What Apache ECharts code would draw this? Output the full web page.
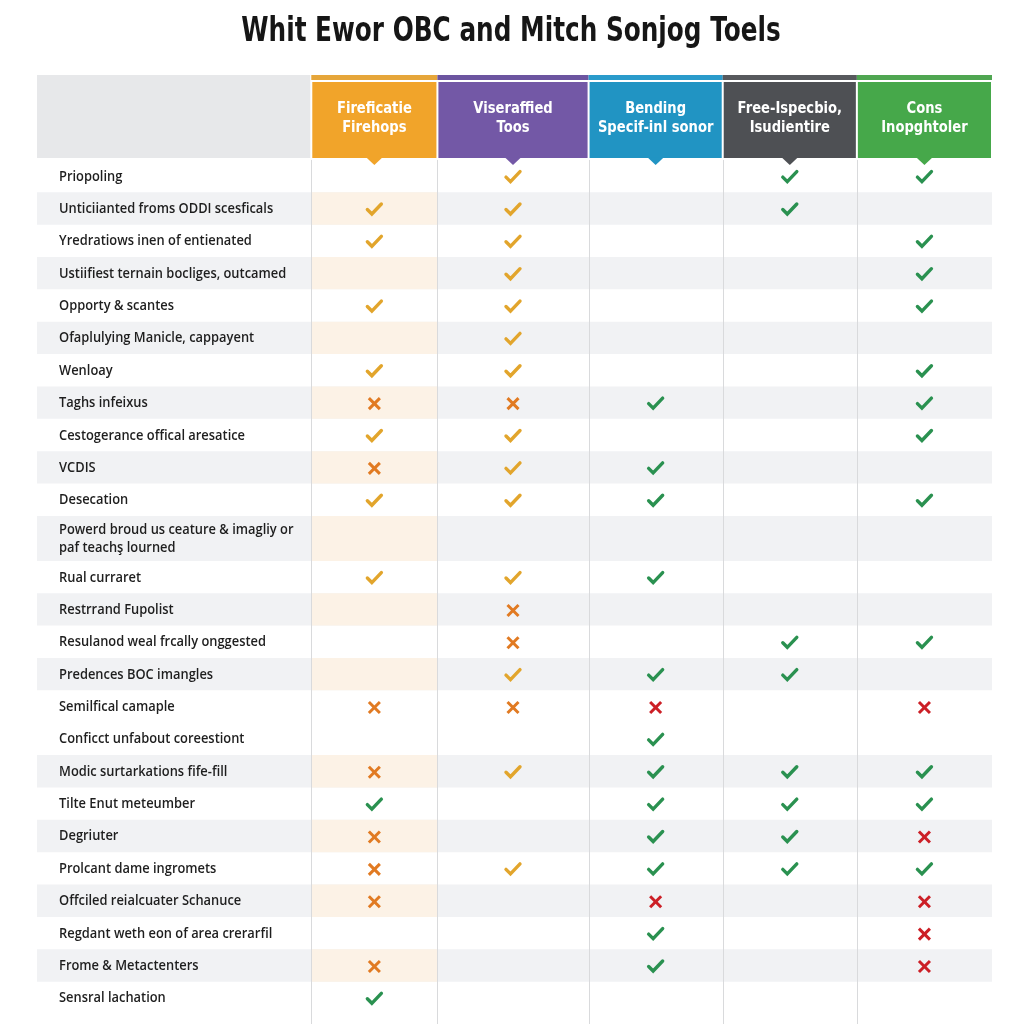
<!DOCTYPE html>
<html><head><meta charset="utf-8">
<script src="https://cdn.jsdelivr.net/npm/echarts@6/dist/echarts.min.js"></script>
<style>html,body{margin:0;padding:0;background:#fff}#c{width:1024px;height:1024px}</style>
</head><body><div id="c"></div>
<script>
// ---------- DATA ----------
const chartTitle = 'Whit Ewor OBC and Mitch Sonjog Toels';
const columnNames = [
  'Fireficatie\nFirehops',
  'Viseraffied\nToos',
  'Bending\nSpecif-inl sonor',
  'Free-Ispecbio,\nIsudientire',
  'Cons\nInopghtoler'
];
const rowLabels = [
  'Priopoling',
  'Unticiianted froms ODDI scesficals',
  'Yredratiows inen of entienated',
  'Ustiifiest ternain bocliges, outcamed',
  'Opporty & scantes',
  'Ofaplulying Manicle, cappayent',
  'Wenloay',
  'Taghs infeixus',
  'Cestogerance offical aresatice',
  'VCDIS',
  'Desecation',
  'Powerd broud us ceature & imagliy or\npaf teachş lourned',
  'Rual curraret',
  'Restrrand Fupolist',
  'Resulanod weal frcally onggested',
  'Predences BOC imangles',
  'Semilfical camaple',
  'Conficct unfabout coreestiont',
  'Modic surtarkations fife-fill',
  'Tilte Enut meteumber',
  'Degriuter',
  'Prolcant dame ingromets',
  'Offciled reialcuater Schanuce',
  'Regdant weth eon of area crerarfil',
  'Frome & Metactenters',
  'Sensral lachation'
];
// 1 = shaded (grey) row, 0 = white row
const rowShaded = [0,1,0,1,0,1,0,1,0,1,0,1,0,1,0,1,0,0,1,0,1,0,1,0,1,0];
// Y = gold check, O = orange cross, G = green check, R = red cross, '' = empty
const col1Marks = ['','Y','Y','','Y','','Y','O','Y','O','Y','','Y','','','','O','','O','G','O','O','O','','O','G'];
const col2Marks = ['Y','Y','Y','Y','Y','Y','Y','O','Y','Y','Y','','Y','O','O','Y','O','','Y','','','Y','','','',''];
const col3Marks = ['','','','','','','','G','','G','G','','G','','','G','R','G','G','G','G','G','R','G','G',''];
const col4Marks = ['G','G','','','','','','','','','','','','','G','G','','','G','G','G','G','','','',''];
const col5Marks = ['G','','G','G','G','','G','G','G','','G','','','','G','','R','','G','G','R','G','R','R','R',''];
const allMarks = [col1Marks, col2Marks, col3Marks, col4Marks, col5Marks];

// ---------- LAYOUT / STYLE ----------
const LABEL_W = 274;
const COL_W = [126, 151, 134, 134, 135];
const HEADER_H = 85, ROW_H = 32.4, EXTRA_LINE_H = 12.6;
const headerColors = ['#F1A42A', '#7358A6', '#2194C3', '#4E5054', '#46A84A'];
const bandColors   = ['#E6A63A', '#6C55A0', '#2A9BCB', '#57595D', '#4FA651'];
const markStyle = {
  Y: {type: 'check', color: '#E2A52C'},
  O: {type: 'cross', color: '#E17A22'},
  G: {type: 'check', color: '#2A9150'},
  R: {type: 'cross', color: '#CC1F26'}
};

const colStart = []; let acc = LABEL_W;
COL_W.forEach(w => { colStart.push(acc); acc += w; });
const totalW = acc;
const rowStart = [], rowH = []; let ya = HEADER_H;
rowLabels.forEach(l => { const n = l.split('\n').length; const h = ROW_H + (n - 1) * EXTRA_LINE_H; rowStart.push(ya); rowH.push(h); ya += h; });
const totalH = ya + 10;

const FONT_LABEL = '"Open Sans", "Noto Sans", sans-serif';
const FONT_HEAD = '"DejaVu Sans", "Noto Sans", sans-serif';

function rectFrom(api, x0, y0, x1, y1) {
  const a = api.coord([x0, y0]), b = api.coord([x1, y1]);
  return {x: Math.min(a[0], b[0]), y: Math.min(a[1], b[1]), width: Math.abs(b[0] - a[0]), height: Math.abs(b[1] - a[1])};
}

const markData = [];
allMarks.forEach((col, c) => col.forEach((m, r) => { if (m) markData.push([c, r, m]); }));

const chart = echarts.init(document.getElementById('c'), null, {renderer: 'canvas'});
chart.setOption({
  backgroundColor: '#ffffff',
  animation: false,
  graphic: [{
    type: 'text', x: 511, y: 32, scaleX: 0.75, z: 10,
    style: {text: chartTitle, align: 'center', verticalAlign: 'middle',
      font: 'bold 33px ' + FONT_HEAD, fill: '#161616'}
  }],
  grid: {left: 37, right: 32, top: 75, bottom: 0, containLabel: false},
  xAxis: {type: 'value', min: 0, max: totalW, show: false},
  yAxis: {type: 'value', min: 0, max: totalH, inverse: true, show: false},
  series: [
    { // row stripes
      type: 'custom', clip: false, silent: true, z: 1,
      data: rowLabels.map((_, i) => [i, i]),
      renderItem: (params, api) => {
        const r = api.value(0);
        const children = [];
        if (rowShaded[r]) {
          children.push({type: 'rect', shape: rectFrom(api, 0, rowStart[r], totalW, rowStart[r] + rowH[r]), style: {fill: '#F1F2F4'}});
          children.push({type: 'rect', shape: rectFrom(api, colStart[0], rowStart[r], colStart[1], rowStart[r] + rowH[r]), style: {fill: '#FCF2E6'}});
        }
        return {type: 'group', children};
      }
    },
    { // vertical lines
      type: 'custom', clip: false, silent: true, z: 2,
      data: colStart.map((_, i) => [i, i]),
      renderItem: (params, api) => {
        const i = api.value(0);
        const a = api.coord([colStart[i], HEADER_H]), b = api.coord([colStart[i], totalH]);
        return {type: 'line', shape: {x1: Math.round(a[0]) + 0.5, y1: a[1], x2: Math.round(a[0]) + 0.5, y2: b[1]}, style: {stroke: '#D9DADC', lineWidth: 1}};
      }
    },
    { // header
      type: 'custom', clip: false, silent: true, z: 3,
      data: columnNames.map((_, i) => [i, i]),
      renderItem: (params, api) => {
        const i = api.value(0);
        const x0 = colStart[i], x1 = colStart[i] + COL_W[i];
        const children = [];
        if (i === 0) {
          children.push({type: 'rect', shape: rectFrom(api, 0, 0, LABEL_W - 1, 83), style: {fill: '#E7E8EA'}});
        }
        children.push({type: 'rect', shape: rectFrom(api, x0, 0, x1, 5), style: {fill: bandColors[i]}});
        children.push({type: 'rect', shape: rectFrom(api, x0 + 1, 7, x1 - 1, 83), style: {fill: headerColors[i]}});
        const c = api.coord([(x0 + x1) / 2, 83]);
        const t = api.coord([(x0 + x1) / 2, 90]);
        children.push({type: 'polygon', shape: {points: [[c[0] - 8, c[1] - 0.5], [c[0] + 8, c[1] - 0.5], [c[0], t[1]]]}, style: {fill: headerColors[i]}});
        const m = api.coord([(x0 + x1) / 2, 43]);
        children.push({type: 'text', x: m[0], y: m[1], scaleX: 0.82, style: {
          text: columnNames[i], fill: '#ffffff', align: 'center', verticalAlign: 'middle',
          font: 'bold 16px ' + FONT_HEAD, lineHeight: 19
        }});
        return {type: 'group', children};
      }
    },
    { // row labels
      type: 'custom', clip: false, silent: true, z: 4,
      data: rowLabels.map((_, i) => [i, i]),
      renderItem: (params, api) => {
        const r = api.value(0);
        const p = api.coord([22, rowStart[r] + rowH[r] / 2 + 0.5]);
        return {type: 'text', x: p[0], y: p[1], scaleX: 0.92, style: {
          text: rowLabels[r], fill: '#1E1E1E', align: 'left', verticalAlign: 'middle',
          font: '600 14px ' + FONT_LABEL, lineHeight: 18
        }};
      }
    },
    { // marks
      type: 'custom', clip: false, silent: true, z: 5,
      data: markData,
      renderItem: (params, api) => {
        const c = api.value(0), r = api.value(1);
        const code = markData[params.dataIndex][2];
        const st = markStyle[code];
        const p = api.coord([colStart[c] + COL_W[c] / 2, rowStart[r] + rowH[r] / 2 + 1]);
        const x = p[0], y = p[1];
        if (st.type === 'check') {
          return {type: 'polyline', shape: {points: [[x - 7, y], [x - 2.5, y + 4.5], [x + 7, y - 5.5]]},
            style: {stroke: st.color, lineWidth: 3.4, fill: null, lineJoin: 'miter', lineCap: 'round'}};
        }
        return {type: 'group', children: [
          {type: 'line', shape: {x1: x - 5.5, y1: y - 5.5, x2: x + 5.5, y2: y + 5.5}, style: {stroke: st.color, lineWidth: 3, lineCap: 'butt'}},
          {type: 'line', shape: {x1: x + 5.5, y1: y - 5.5, x2: x - 5.5, y2: y + 5.5}, style: {stroke: st.color, lineWidth: 3, lineCap: 'butt'}}
        ]};
      }
    }
  ]
});
</script>
</body></html>
